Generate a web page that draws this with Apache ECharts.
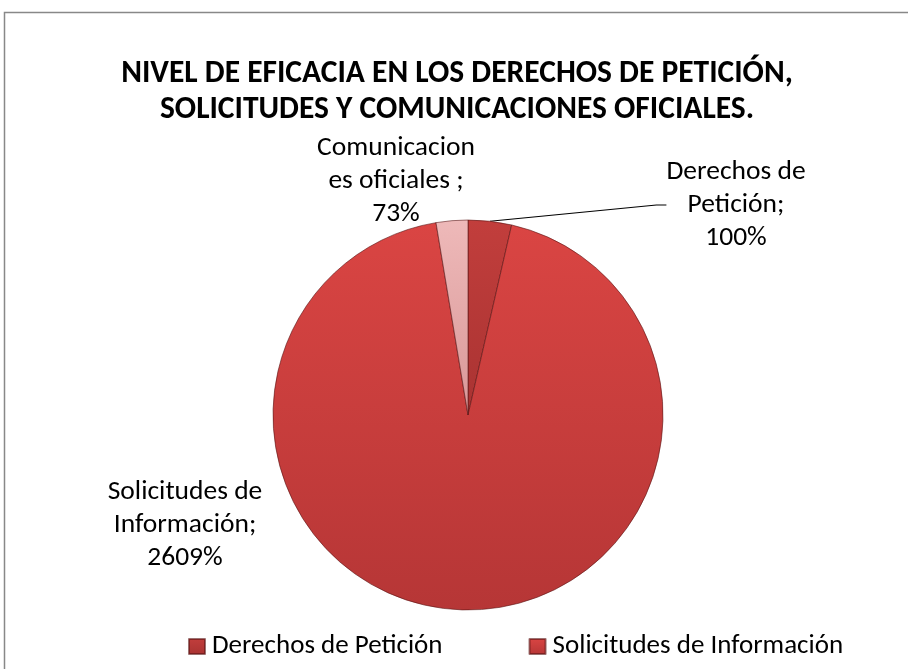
<!DOCTYPE html>
<html>
<head>
<meta charset="utf-8">
<script src="https://cdn.jsdelivr.net/npm/echarts@6/dist/echarts.min.js"></script>
<style>
  html, body { margin: 0; padding: 0; background: #fff; }
  #chart { width: 908px; height: 669px; }
</style>
</head>
<body>
<div id="chart"></div>
<script>
const categories = ['Derechos de Petición', 'Solicitudes de Información', 'Comunicaciones oficiales']
const values = [100, 2609, 73]
const labelTexts = ['Derechos de\nPetición;\n100%', 'Solicitudes de\nInformación;\n2609%', 'Comunicacion\nes oficiales ;\n73%']
const legendNames = ['Derechos de Petición', 'Solicitudes de Información']

const font = 'Carlito, Calibri, sans-serif'

const grad = (top, bottom) => new echarts.graphic.LinearGradient(0, 0, 0, 1, [
    { offset: 0, color: top },
    { offset: 1, color: bottom },
])
const sliceColors = [
    grad('#c23e3c', '#a93332'),
    grad('#da4543', '#b63636'),
    grad('#eeb9b9', '#d99898'),
]

// where the labels sit (Excel placed them by hand)
const labelSpots = [
    { x: 736, y: 205 },
    { x: 185, y: 525 },
    { x: 396, y: 181 },
]

const chart = echarts.init(document.getElementById('chart'))

chart.setOption({
    backgroundColor: '#fff',
    title: {
        text: 'NIVEL DE EFICACIA EN LOS DERECHOS DE PETICIÓN,\nSOLICITUDES Y COMUNICACIONES OFICIALES.',
        left: 452,
        top: 51,
        textAlign: 'center',
        textStyle: {
            fontFamily: font,
            fontSize: 31.5,
            fontWeight: 'bold',
            color: '#000',
            lineHeight: 36,
        },
    },
    legend: {
        data: legendNames,
        left: 183,
        top: 628,
        itemWidth: 16,
        itemHeight: 15,
        itemGap: 86,
        icon: 'rect',
        textStyle: { fontFamily: font, fontSize: 27, color: '#000', padding: [0, 0, 0, 2] },
    },
    graphic: [
        {
            type: 'rect',
            shape: { x: 4.5, y: 12.5, width: 920, height: 700 },
            style: { fill: 'none', stroke: '#888', lineWidth: 1.5 },
            silent: true,
        },
    ],
    series: [
        {
            type: 'pie',
            center: [468, 415],
            radius: 195,
            startAngle: 90,
            clockwise: true,
            animation: false,
            itemStyle: { borderColor: 'rgba(90,20,20,0.6)', borderWidth: 1 },
            label: {
                show: true,
                position: 'outside',
                fontFamily: font,
                fontSize: 27.5,
                lineHeight: 33,
                color: '#000',
                align: 'center',
                formatter: (p) => labelTexts[p.dataIndex],
            },
            labelLine: { show: true, lineStyle: { color: '#000', width: 1.2 }, length: 20, length2: 10 },
            labelLayout: (p) => ({
                x: labelSpots[p.dataIndex].x,
                y: labelSpots[p.dataIndex].y,
                align: 'center',
                verticalAlign: 'middle',
            }),
            data: categories.map((name, i) => ({
                name,
                value: values[i],
                itemStyle: { color: sliceColors[i] },
                labelLine: { show: i === 0 },
            })),
        },
    ],
})
</script>
</body>
</html>
